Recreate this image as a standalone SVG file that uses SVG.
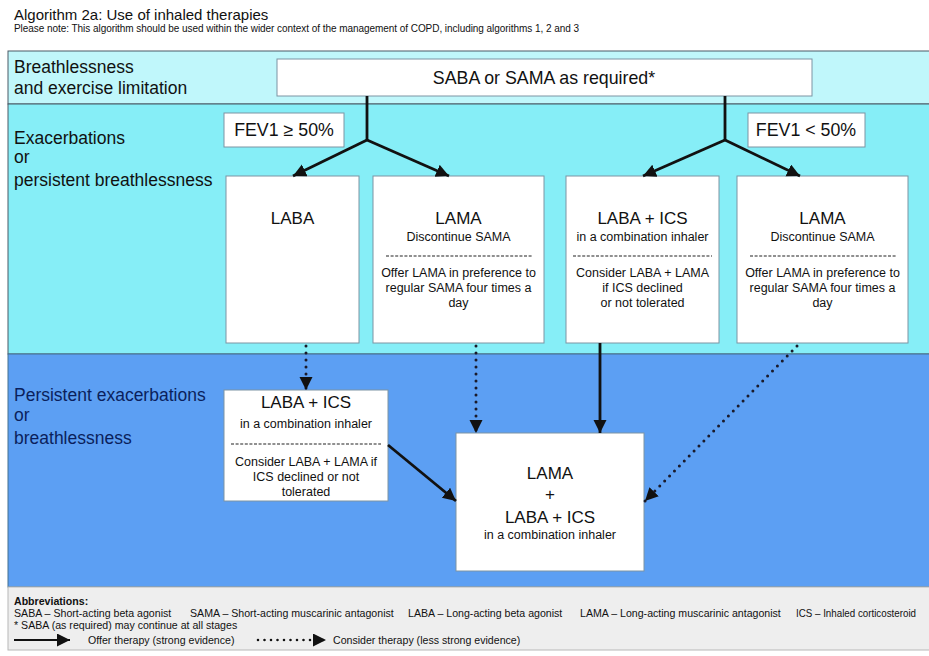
<svg xmlns="http://www.w3.org/2000/svg" width="929" height="656" viewBox="0 0 929 656">
<style>
text{font-family:"Liberation Sans",Arial,sans-serif;fill:#111}
.band{stroke:#4a5a66;stroke-width:1}
.lab{font-size:17.5px}
.lab3{font-size:17.5px;fill:#0b1f5c}
.box{fill:#fff;stroke:#7d94a3;stroke-width:1}
.big{font-size:17px;text-anchor:middle}
.sm{font-size:12.5px;text-anchor:middle}
.sep{stroke:#222;stroke-width:1.2;stroke-dasharray:3 1.6}
.solid{fill:none;stroke:#111;stroke-width:2.8}
.dot{fill:none;stroke:#1a1a2a;stroke-width:3;stroke-linecap:round;stroke-dasharray:0 7}
.leg{font-size:10.6px}
</style>
<defs>
<marker id="ah" markerUnits="userSpaceOnUse" markerWidth="15" markerHeight="14" refX="13" refY="6.5" orient="auto">
<path d="M0,0 L13,6.5 L0,13 z" fill="#111"/>
</marker>
</defs>
<rect width="929" height="656" fill="#fff"/>
<g id="header">
<text x="14" y="20" style="font-size:15px">Algorithm 2a: Use of inhaled therapies</text>
<text x="14" y="32" style="font-size:10px;letter-spacing:-0.05px">Please note: This algorithm should be used within the wider context of the management of COPD, including algorithms 1, 2 and 3</text>
</g>
<g id="bands">
<rect class="band" x="8" y="51" width="925" height="53" fill="#c0f7fb"/>
<rect class="band" x="8" y="104" width="925" height="250" fill="#86eef7"/>
<rect x="8" y="354" width="925" height="233" fill="#5c9ff3" stroke="#44708f" stroke-width="1"/>
<text class="lab" x="14" y="73">Breathlessness</text>
<text class="lab" x="14" y="94">and exercise limitation</text>
<text class="lab" x="14" y="144">Exacerbations</text>
<text class="lab" x="14" y="163">or</text>
<text class="lab" x="14" y="186">persistent breathlessness</text>
<text class="lab3" x="14" y="401">Persistent exacerbations</text>
<text class="lab3" x="14" y="421">or</text>
<text class="lab3" x="14" y="444">breathlessness</text>
</g>
<g id="saba">
<rect class="box" x="277" y="59" width="535" height="37"/>
<text x="544" y="84" style="font-size:17.8px;text-anchor:middle">SABA or SAMA as required*</text>
</g>
<g id="fev-high">
<rect class="box" x="224" y="113" width="120" height="34"/>
<text x="284" y="136" style="font-size:17.8px;text-anchor:middle">FEV1 ≥ 50%</text>
</g>
<g id="fev-low">
<rect class="box" x="748" y="113" width="117" height="34"/>
<text x="806" y="136" style="font-size:17.8px;text-anchor:middle">FEV1 &lt; 50%</text>
</g>
<g id="laba">
<rect class="box" x="226" y="176" width="133" height="167"/>
<text class="big" x="292.5" y="224">LABA</text>
</g>
<g id="lama-1">
<rect class="box" x="373" y="176" width="171" height="167"/>
<text class="big" x="458.5" y="224">LAMA</text>
<text class="sm" x="458.5" y="241">Discontinue SAMA</text>
<line class="sep" x1="386" y1="256" x2="532" y2="256"/>
<text class="sm" x="458.5" y="277">Offer LAMA in preference to</text>
<text class="sm" x="458.5" y="292">regular SAMA four times a</text>
<text class="sm" x="458.5" y="307">day</text>
</g>
<g id="laba-ics-1">
<rect class="box" x="566" y="176" width="153" height="167"/>
<text class="big" x="642.5" y="224">LABA + ICS</text>
<text class="sm" x="642.5" y="241">in a combination inhaler</text>
<line class="sep" x1="573" y1="256" x2="712" y2="256"/>
<text class="sm" x="642.5" y="277">Consider LABA + LAMA</text>
<text class="sm" x="642.5" y="292">if ICS declined</text>
<text class="sm" x="642.5" y="307">or not tolerated</text>
</g>
<g id="lama-2">
<rect class="box" x="737" y="176" width="171" height="167"/>
<text class="big" x="822.5" y="224">LAMA</text>
<text class="sm" x="822.5" y="241">Discontinue SAMA</text>
<line class="sep" x1="750" y1="256" x2="896" y2="256"/>
<text class="sm" x="822.5" y="277">Offer LAMA in preference to</text>
<text class="sm" x="822.5" y="292">regular SAMA four times a</text>
<text class="sm" x="822.5" y="307">day</text>
</g>
<g id="laba-ics-2">
<rect class="box" x="224" y="390" width="164" height="111"/>
<text class="big" x="306" y="408">LABA + ICS</text>
<text class="sm" x="306" y="428">in a combination inhaler</text>
<line class="sep" x1="231" y1="444" x2="381" y2="444"/>
<text class="sm" x="306" y="466">Consider LABA + LAMA if</text>
<text class="sm" x="306" y="481">ICS declined or not</text>
<text class="sm" x="306" y="496">tolerated</text>
</g>
<g id="triple">
<rect class="box" x="456" y="433" width="188" height="138"/>
<text class="big" x="550" y="479">LAMA</text>
<text class="big" x="550" y="500">+</text>
<text class="big" x="550" y="523">LABA + ICS</text>
<text class="sm" x="550" y="539">in a combination inhaler</text>
</g>
<g id="connectors">
<polyline class="solid" points="367,96 367,140"/>
<line class="solid" x1="367" y1="140" x2="293" y2="176" marker-end="url(#ah)"/>
<line class="solid" x1="367" y1="140" x2="449" y2="176" marker-end="url(#ah)"/>
<polyline class="solid" points="725,96 725,140"/>
<line class="solid" x1="725" y1="140" x2="643" y2="176" marker-end="url(#ah)"/>
<line class="solid" x1="725" y1="140" x2="800" y2="176" marker-end="url(#ah)"/>
<line class="dot" x1="306" y1="346" x2="306" y2="390" marker-end="url(#ah)"/>
<line class="dot" x1="476" y1="346" x2="476" y2="433" marker-end="url(#ah)"/>
<line class="solid" x1="600" y1="343" x2="600" y2="433" marker-end="url(#ah)"/>
<line class="dot" x1="797" y1="346" x2="645" y2="501" marker-end="url(#ah)"/>
<line class="solid" x1="388" y1="445" x2="456" y2="501" marker-end="url(#ah)"/>
</g>
<g id="legend">
<rect x="8" y="587" width="925" height="63" fill="#eeeeee" stroke="#b8b8b8" stroke-width="1"/>
<text class="leg" x="14" y="605" style="font-weight:bold">Abbreviations:</text>
<text class="leg" x="14" y="617">SABA – Short-acting beta agonist</text>
<text class="leg" x="190" y="617">SAMA – Short-acting muscarinic antagonist</text>
<text class="leg" x="408" y="617">LABA – Long-acting beta agonist</text>
<text class="leg" x="580" y="617">LAMA – Long-acting muscarinic antagonist</text>
<text class="leg" x="796" y="617" textLength="120" lengthAdjust="spacingAndGlyphs">ICS – Inhaled corticosteroid</text>
<text class="leg" x="14" y="629">* SABA (as required) may continue at all stages</text>
<line x1="14" y1="640" x2="70" y2="640" stroke="#111" stroke-width="2.2" marker-end="url(#ah)"/>
<text class="leg" x="88" y="644">Offer therapy (strong evidence)</text>
<line x1="258" y1="640" x2="326" y2="640" stroke="#111" stroke-width="2.6" stroke-linecap="round" stroke-dasharray="0 6.5" marker-end="url(#ah)"/>
<text class="leg" x="333" y="644">Consider therapy (less strong evidence)</text>
</g>
</svg>
